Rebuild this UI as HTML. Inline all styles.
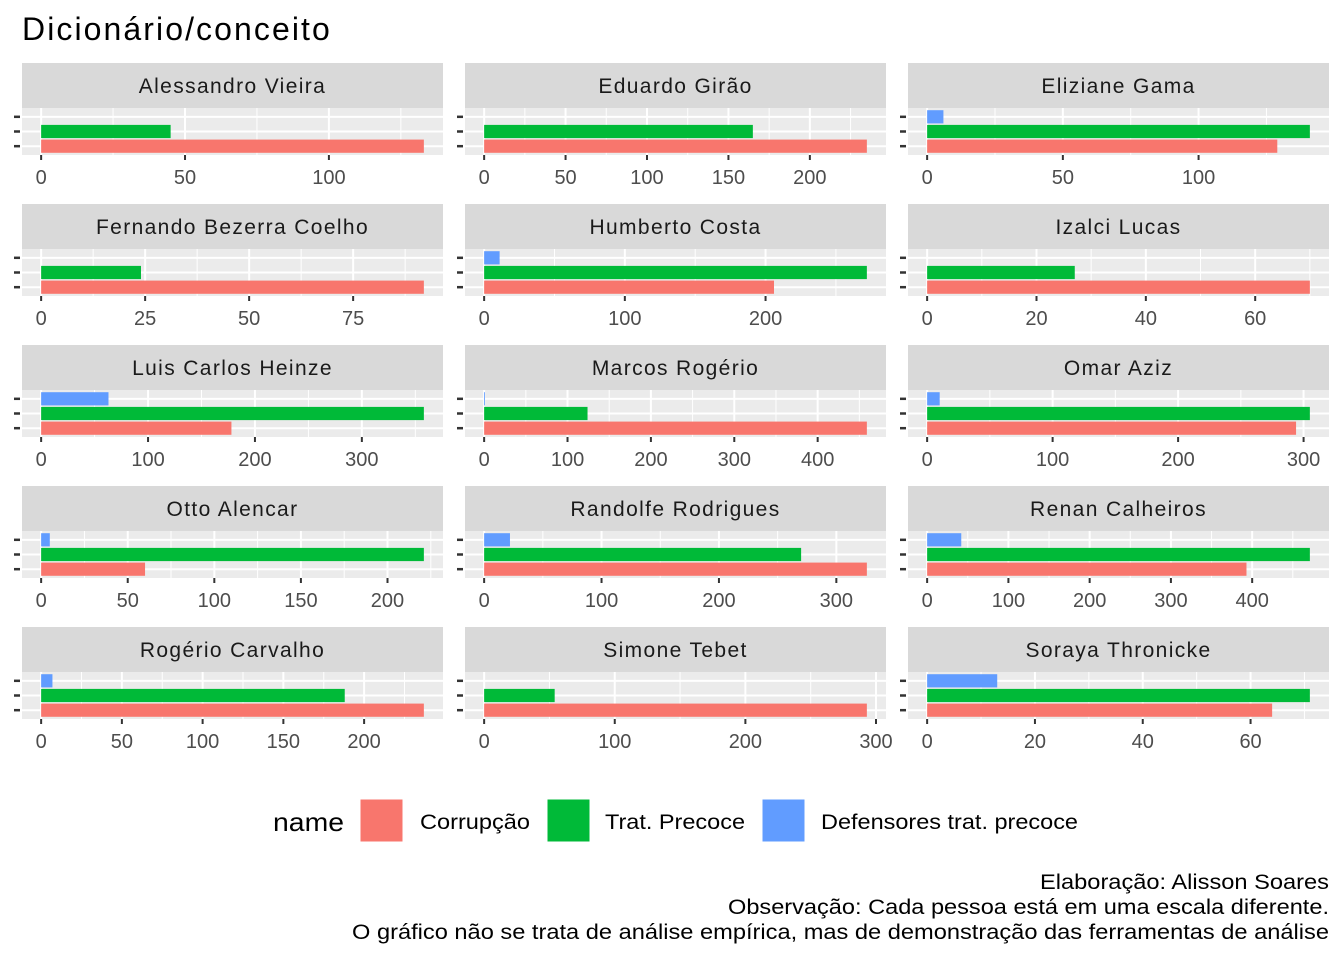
<!DOCTYPE html>
<html><head><meta charset="utf-8"><style>
body{margin:0;background:#fff;}
svg{display:block;font-family:"Liberation Sans",sans-serif;}
.w{letter-spacing:0.065em;}
</style></head><body>
<svg id="c" width="1344" height="960"></svg>
<script>
const names=["Alessandro Vieira","Eduardo Girão","Eliziane Gama","Fernando Bezerra Coelho","Humberto Costa","Izalci Lucas","Luis Carlos Heinze","Marcos Rogério","Omar Aziz","Otto Alencar","Randolfe Rodrigues","Renan Calheiros","Rogério Carvalho","Simone Tebet","Soraya Thronicke"];
const corrupcao=[133,235,129,92,206,70,178,459,294,60,326,393,237,293,64];
const tratPrecoce=[45,165,141,24,272,27,358,124,305,221,270,471,188,54,71];
const defensores=[0,0,6,0,11,0,63,1,10,5,22,42,7,0,13];
const ticks=[[0,50,100],[0,50,100,150,200],[0,50,100],[0,25,50,75],[0,100,200],[0,20,40,60],[0,100,200,300],[0,100,200,300,400],[0,100,200,300],[0,50,100,150,200],[0,100,200,300],[0,100,200,300,400],[0,50,100,150,200],[0,100,200,300],[0,20,40,60]];
const seriesNames=["Corrupção","Trat. Precoce","Defensores trat. precoce"];
const colors=["#F8766D","#00BA38","#619CFF"];
const NS="http://www.w3.org/2000/svg";
const svg=document.getElementById('c');
function mk(t,a,p){const e=document.createElementNS(NS,t);for(const k in a)e.setAttribute(k,a[k]);(p||svg).appendChild(e);return e;}
let t=mk('text',{x:22,y:40,'font-size':32,fill:'#000','class':'w'});t.textContent='Dicionário/conceito';

const colX=[22,465,908],W=421,rowY=[63,204,345,486,627],SH=45,PH=47;
names.forEach((n,i)=>{
  const x0=colX[i%3],y0=rowY[Math.floor(i/3)];
  const g=mk('g',{});
  
  
  mk('rect',{x:x0,y:y0,width:W,height:SH,fill:'#D9D9D9'},g);
  const st=mk('text',{x:x0+W/2,y:y0+30,'font-size':21,fill:'#1A1A1A','text-anchor':'middle','class':'w'},g);st.textContent=n;
  
  const py=y0+SH;
  mk('rect',{x:x0,y:py,width:W,height:PH,fill:'#EBEBEB'},g);
  const mx=Math.max(corrupcao[i],tratPrecoce[i],defensores[i]);
  const inner=W/1.1, z=x0+W*0.05/1.1;
  const sx=v=>z+v/mx*inner;
  const tk=ticks[i];const step=tk[1]-tk[0];
  for(let k=0;k<tk.length+1;k++){const v=tk[0]+step*(k+0.5);const xx=sx(v);if(xx<x0+W&&xx>x0)mk('line',{x1:xx,x2:xx,y1:py,y2:py+PH,stroke:'#fff','stroke-width':1},g);}
  const u=PH/3.2, cy=c=>py+PH-(0.6+c)*u;
  for(let c=0;c<3;c++)mk('line',{x1:x0,x2:x0+W,y1:cy(c),y2:cy(c),stroke:'#fff','stroke-width':2},g);
  tk.forEach(v=>{const xx=sx(v);mk('line',{x1:xx,x2:xx,y1:py,y2:py+PH,stroke:'#fff','stroke-width':2},g);
    mk('line',{x1:xx,x2:xx,y1:py+PH,y2:py+PH+5,stroke:'#333','stroke-width':2},g);
    const tl=mk('text',{x:xx,y:py+PH+29,'font-size':20,fill:'#4D4D4D','text-anchor':'middle'},g);tl.textContent=v;
    });
  [corrupcao,tratPrecoce,defensores].forEach((arr,c)=>{
    mk('line',{x1:x0-8,x2:x0-2,y1:cy(c),y2:cy(c),stroke:'#333','stroke-width':2.5},g);
    const v=arr[i];if(v<=0)return;
    const b=mk('rect',{x:sx(0),y:cy(c)-0.45*u,width:sx(v)-sx(0),height:0.9*u,fill:colors[c]},g);
    
    
  });
});
const lg=mk('g',{});
let lt=mk('text',{x:273,y:831,'font-size':26,fill:'#000',textLength:71,lengthAdjust:'spacingAndGlyphs'},lg);lt.textContent='name';
const kx=[360,547,762],tx=[420,605,821],tw=[110,140,257];
seriesNames.forEach((s,c)=>{
  const r=mk('rect',{x:kx[c],y:799,width:43,height:43,fill:colors[c],stroke:'#fff'},lg);
  
  const tt=mk('text',{x:tx[c],y:829,'font-size':21,fill:'#000',textLength:tw[c],lengthAdjust:'spacingAndGlyphs'},lg);tt.textContent=s;
  
});
const capW=[289,601,977];
["Elaboração: Alisson Soares","Observação: Cada pessoa está em uma escala diferente.","O gráfico não se trata de análise empírica, mas de demonstração das ferramentas de análise"].forEach((s,k)=>{
  const cpt=mk('text',{x:1329-capW[k],y:889+k*25,'font-size':21,fill:'#000',textLength:capW[k],lengthAdjust:'spacingAndGlyphs'});cpt.textContent=s;
  
});
</script>
</body></html>
